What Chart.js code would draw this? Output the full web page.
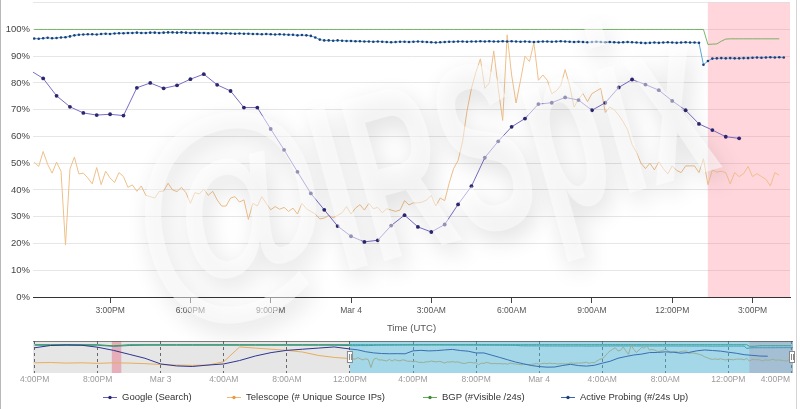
<!DOCTYPE html>
<html>
<head>
<meta charset="utf-8">
<script src="https://cdn.jsdelivr.net/npm/chart.js@4.4.1/dist/chart.umd.min.js"></script>
<style>
  html, body { margin: 0; padding: 0; background: #fff; }
  #wrap { position: relative; width: 800px; height: 409px; overflow: hidden; }
  #main { position: absolute; left: 0; top: -6px; }
  #nav { position: absolute; left: 0; top: 336px; }
  #frame { position: absolute; left: 0; top: 0; width: 797px; height: 409px; box-sizing: border-box;
           border-left: 1px solid #b8b8b8; border-right: 1px solid #d4d4d4; pointer-events: none; }
</style>
</head>
<body>
<div id="wrap">
  <canvas id="main" width="800" height="346"></canvas>
  <canvas id="nav" width="800" height="73"></canvas>
  <div id="frame"></div>
</div>
<script>
// time values are hours since Mar 3 00:00 UTC

// main chart x ticks
const mainTickHours = [15, 18, 21, 24, 27, 30, 33, 36, 39];
const mainTickLabels = ['3:00PM', '6:00PM', '9:00PM', 'Mar 4', '3:00AM', '6:00AM', '9:00AM', '12:00PM', '3:00PM'];

// navigator x ticks
const navTickHours = [-8, -4, 0, 4, 8, 12, 16, 20, 24, 28, 32, 36, 40];
const navTickLabels = ['4:00PM', '8:00PM', 'Mar 3', '4:00AM', '8:00AM', '12:00PM', '4:00PM', '8:00PM', 'Mar 4', '4:00AM', '8:00AM', '12:00PM', '4:00PM'];

// Google (Search), every 30 min
const googleHours = [12.0, 12.5, 13.0, 13.5, 14.0, 14.5, 15.0, 15.5, 16.0, 16.5,
  17.0, 17.5, 18.0, 18.5, 19.0, 19.5, 20.0, 20.5, 21.0, 21.5,
  22.0, 22.5, 23.0, 23.5, 24.0, 24.5, 25.0, 25.5, 26.0, 26.5,
  27.0, 27.5, 28.0, 28.5, 29.0, 29.5, 30.0, 30.5, 31.0, 31.5,
  32.0, 32.5, 33.0, 33.5, 34.0, 34.5, 35.0, 35.5, 36.0, 36.5,
  37.0, 37.5, 38.0, 38.5];
const googleValues = [84.8, 81.7, 75.2, 71.1, 68.8, 68.0, 68.3, 67.8, 78.2, 80.0,
  78.0, 79.1, 81.4, 83.3, 79.3, 77.0, 70.8, 70.8, 62.8, 55.0,
  46.8, 38.7, 32.6, 26.5, 22.7, 20.6, 21.2, 26.7, 30.6, 26.2,
  24.3, 27.1, 34.6, 41.4, 52.1, 58.2, 63.6, 66.7, 72.1, 72.6,
  74.6, 73.6, 69.8, 72.6, 78.3, 81.3, 79.4, 77.3, 73.3, 69.8,
  64.7, 62.4, 59.9, 59.3];

// the other three series are sampled every 10 min from 12:10PM Mar 3
const SERIES_START = 12 + 10 / 60;
const SERIES_STEP = 10 / 60;

const telescopeValues = [
  50.4, 48.8, 54.4, 49.6, 46.3, 50.4, 47.0, 19.4, 47.8, 52.3,
  46.0, 46.3, 44.5, 42.3, 48.4, 42.0, 47.0, 44.5, 42.8, 46.5,
  45.0, 41.0, 41.9, 39.5, 41.5, 38.0, 37.5, 37.0, 39.4, 39.6,
  42.5, 40.0, 39.4, 41.0, 39.0, 35.0, 39.0, 38.5, 40.3, 38.0,
  39.5, 36.3, 34.0, 34.0, 37.0, 37.5, 35.5, 36.3, 29.0, 35.0,
  34.0, 37.5, 35.0, 32.6, 33.8, 32.8, 33.5, 32.0, 33.2, 31.0,
  35.0, 33.0, 32.0, 31.0, 29.2, 29.5, 30.5, 29.6, 30.5, 31.5,
  33.8, 31.0, 33.2, 34.5, 32.5, 35.0, 33.0, 33.5, 31.5, 33.0,
  32.5, 32.0, 32.5, 36.0, 34.4, 35.2, 35.2, 35.5, 36.3, 38.0,
  34.0, 37.0, 36.0, 42.5, 48.0, 51.0, 58.0, 69.5, 78.0, 84.0,
  89.0, 78.0, 80.0, 92.0, 78.0, 66.0, 98.0, 83.0, 72.5, 81.0,
  90.0, 88.0, 95.0, 81.0, 83.0, 81.0, 76.0, 77.0, 79.0, 85.0,
  79.0, 71.0, 74.0, 76.0, 73.0, 76.0, 77.0, 78.0, 69.0, 71.0,
  70.0, 68.0, 65.5, 62.5, 57.0, 54.0, 50.0, 48.0, 50.0, 47.5,
  50.5, 48.0, 46.0, 49.0, 47.3, 46.5, 49.0, 49.0, 49.0, 46.5,
  51.7, 42.0, 47.5, 46.7, 47.0, 46.5, 42.3, 46.5, 45.0, 46.1,
  48.8, 45.0, 46.1, 45.0, 44.0, 41.5, 46.5, 45.5];

const bgpValues = [
  100, 100, 100, 100, 100, 100, 100, 100, 100, 100, 100, 100, 100, 100, 100, 100, 100, 100, 100, 100,
  100, 100, 100, 100, 100, 100, 100, 100, 100, 100, 100, 100, 100, 100, 100, 100, 100, 100, 100, 100,
  100, 100, 100, 100, 100, 100, 100, 100, 100, 100, 100, 100, 100, 100, 100, 100, 100, 100, 100, 100,
  100, 100, 100, 100, 100, 100, 100, 100, 100, 100, 100, 100, 100, 100, 100, 100, 100, 100, 100, 100,
  100, 100, 100, 100, 100, 100, 100, 100, 100, 100, 100, 100, 100, 100, 100, 100, 100, 100, 100, 100,
  100, 100, 100, 100, 100, 100, 100, 100, 100, 100, 100, 100, 100, 100, 100, 100, 100, 100, 100, 100,
  100, 100, 100, 100, 100, 100, 100, 100, 100, 100, 100, 100, 100, 100, 100, 100, 100, 100, 100, 100,
  100, 100, 100, 100, 100, 100, 100, 100, 100, 100, 100,
  94.4, 94.5, 94.6, 95.6, 96.4, 96.5, 96.5, 96.5, 96.5, 96.5, 96.5, 96.5, 96.5, 96.5, 96.5, 96.5, 96.5];

const probingValues = [
  96.6, 96.5, 96.7, 96.9, 96.7, 96.8, 97.0, 97.1, 97.4, 97.8, 98.0,
  98.1, 98.2, 98.2, 98.1, 98.3, 98.4, 98.3, 98.5, 98.6, 98.6,
  98.7, 98.7, 98.8, 98.7, 98.7, 98.8, 98.8, 98.7, 98.8, 98.9,
  98.9, 98.8, 98.9, 98.8, 98.7, 98.8, 98.7, 98.7, 98.6, 98.7,
  98.6, 98.5, 98.6, 98.5, 98.4, 98.5, 98.4, 98.4, 98.3, 98.3,
  98.2, 98.3, 98.2, 98.1, 98.2, 98.1, 98.0, 98.0, 97.8, 97.9,
  97.8, 97.6, 97.0, 96.2, 95.9, 95.9, 95.8, 95.9, 95.8, 95.7,
  95.7, 95.6, 95.6, 95.5, 95.5, 95.4, 95.5, 95.4, 95.3, 95.2,
  95.3, 95.4, 95.4, 95.3, 95.4, 95.5, 95.4, 95.3, 95.2, 95.1,
  95.2, 95.3, 95.4, 95.4, 95.5, 95.5, 95.4, 95.5, 95.5, 95.6,
  95.5, 95.6, 95.5, 95.5, 95.6, 95.5, 95.6, 95.5, 95.4, 95.5,
  95.4, 95.3, 95.4, 95.5, 95.5, 95.4, 95.5, 95.6, 95.5, 95.4,
  95.3, 95.4, 95.3, 95.2, 95.3, 95.4, 95.3, 95.2, 95.3, 95.2,
  95.1, 95.2, 95.3, 95.2, 95.1, 95.0, 94.9, 95.0, 95.1, 95.0,
  95.1, 95.2, 95.1, 95.0, 95.1, 95.2, 95.1, 95.1, 95.0, 86.8,
  88.2, 89.1, 89.2, 89.3, 89.2, 89.3, 89.2, 89.2, 89.3, 89.3,
  89.4, 89.5, 89.4, 89.5, 89.6, 89.5, 89.6, 89.5];

// navigator only: hourly values before the main window (Mar 2 4PM .. Mar 3 11AM)
const navEarlyHours = [-8, -7, -6, -5, -4, -3, -2, -1, 0, 1, 2, 3, 4, 5, 6, 7, 8, 9, 10, 11];
const navGoogleEarly = [89, 97, 99, 98, 91, 80, 66, 52, 32, 25, 23, 28, 32, 44, 60, 72, 80, 84, 88, 92];
const navTelescopeEarly = [36, 37, 35, 36, 34, 36, 35, 33, 30, 28, 27, 28, 40, 92, 88, 84, 80, 74, 62, 55];
const navBgpEarly = [100, 100, 100, 100, 100, 96, 100, 100, 100, 100, 100, 100, 100, 100, 100, 100, 100, 100, 100, 100];
const navProbingEarly = [98, 98, 98, 98, 98, 94, 97, 98, 98, 98, 98, 98, 98, 98, 98, 98, 98, 98, 98, 98];

const X_MIN = 12.12, X_MAX = 40.40;
const NAV_MIN = -8.1, NAV_MAX = 40.1;
const OUTAGE_START = 37.33;        // 1:20PM Mar 4
const NAV_OLD_OUTAGE = [-3.1, -2.5];
const watermarkParts = ['@', 'IRSpix'];
const legendTextX = [122, 246, 442, 580];

const FONT = '"Liberation Sans", Arial, Helvetica, sans-serif';
Chart.defaults.font.family = FONT;

function pairs(hours, values) {
  return values.map((v, i) => ({ x: hours[i], y: v }));
}
function stepped(values) {
  return values.map((v, i) => ({ x: SERIES_START + i * SERIES_STEP, y: v }));
}

const googleData = pairs(googleHours, googleValues);
const telescopeData = stepped(telescopeValues);
const bgpData = stepped(bgpValues);
const probingData = stepped(probingValues);

// pink outage band on the main chart
const outageBand = {
  id: 'outageBand',
  beforeDatasetsDraw(chart) {
    const { ctx, chartArea, scales: { x } } = chart;
    const x0 = x.getPixelForValue(OUTAGE_START);
    ctx.save();
    ctx.fillStyle = 'rgba(255, 120, 140, 0.3)';
    ctx.fillRect(x0, chartArea.top, chartArea.right - x0, chartArea.bottom - chartArea.top);
    ctx.restore();
  }
};

// embossed watermark over the plot (canvas is shifted up 6px)
const watermark = {
  id: 'watermark',
  afterDraw(chart) {
    const ctx = chart.ctx;
    const spots = [
      { x: 232, y: 224, sx: 0.85, size: 240 },
      { x: 515, y: 162, sx: 0.53, size: 240 }
    ];
    ctx.save();
    ctx.textAlign = 'center';
    ctx.textBaseline = 'middle';
    ctx.shadowColor = 'rgba(0,0,0,0.24)';
    ctx.shadowBlur = 24;
    ctx.shadowOffsetX = 5;
    ctx.shadowOffsetY = 9;
    ctx.fillStyle = 'rgba(255,255,255,0.5)';
    watermarkParts.forEach((t, i) => {
      const s = spots[i];
      ctx.save();
      ctx.translate(s.x, s.y);
      ctx.rotate(-0.27);
      ctx.scale(s.sx, 1);
      ctx.font = 'bold ' + s.size + 'px ' + FONT;
      ctx.fillText(t, 0, 0);
      ctx.restore();
    });
    ctx.restore();
  }
};

new Chart(document.getElementById('main'), {
  type: 'line',
  data: {
    datasets: [
      { label: 'Google (Search)', data: googleData, borderColor: '#7a6cc6', borderWidth: 1,
        pointRadius: 1.9, pointBackgroundColor: '#2c2870', pointBorderWidth: 0, order: 2 },
      { label: 'Telescope (# Unique Source IPs)', data: telescopeData, borderColor: '#efc08a', borderWidth: 1,
        pointRadius: 0, order: 4 },
      { label: 'BGP (#Visible /24s)', data: bgpData, borderColor: 'rgba(90, 165, 70, 0.8)', borderWidth: 1,
        pointRadius: 0, order: 1 },
      { label: 'Active Probing (#/24s Up)', data: probingData, borderColor: '#5aa8dc', borderWidth: 1,
        pointRadius: 1.3, pointBackgroundColor: '#1d3f7a', pointBorderWidth: 0, order: 3 }
    ]
  },
  options: {
    responsive: false,
    animation: false,
    events: [],
    layout: { autoPadding: false, padding: { top: 2, right: 10, bottom: 4, left: 0 } },
    scales: {
      x: {
        type: 'linear', min: X_MIN, max: X_MAX,
        afterBuildTicks: s => { s.ticks = mainTickHours.map(v => ({ value: v })); },
        afterFit: s => { s.height = 39; },
        ticks: {
          autoSkip: false, maxRotation: 0, padding: 3, color: '#555', font: { size: 8.5 },
          callback: v => mainTickLabels[mainTickHours.indexOf(v)]
        },
        grid: { drawOnChartArea: false, tickLength: 6, tickColor: '#444' },
        border: { color: '#333' },
        title: { display: true, text: 'Time (UTC)', color: '#555', font: { size: 9.5 }, padding: { top: 0, bottom: 2 } }
      },
      y: {
        min: 0, max: 110,
        afterFit: s => { s.width = 33; },
        ticks: {
          stepSize: 10, padding: 3, color: '#444', font: { size: 9.5 },
          callback: v => (v > 100 ? '' : v + '%')
        },
        grid: { color: '#e6e6e6', drawTicks: false },
        border: { display: false }
      }
    },
    plugins: { legend: { display: false }, tooltip: { enabled: false } }
  },
  plugins: [outageBand, watermark]
});

// navigator
const navColors = [
  { line: '#6a5fb8', dot: '#2c2870' },
  { line: '#f0b870', dot: '#e89a40' },
  { line: '#62b052', dot: '#3f8a3a' },
  { line: '#3a62b0', dot: '#1d3f7a' }
];

const navBands = {
  id: 'navBands',
  beforeDraw(chart) {
    const { ctx, chartArea: a, scales: { x } } = chart;
    const sel = x.getPixelForValue(X_MIN - 0.12);
    ctx.save();
    ctx.fillStyle = '#e6e6e6';
    ctx.fillRect(a.left, a.top, a.right - a.left, a.bottom - a.top);
    ctx.fillStyle = 'rgba(230, 150, 165, 0.7)';
    const p0 = x.getPixelForValue(NAV_OLD_OUTAGE[0]), p1 = x.getPixelForValue(NAV_OLD_OUTAGE[1]);
    ctx.fillRect(p0, a.top, p1 - p0, a.bottom - a.top);
    ctx.fillStyle = '#fbfbfb';
    ctx.fillRect(sel, a.top, a.right - sel, a.bottom - a.top);
    const o = x.getPixelForValue(OUTAGE_START);
    ctx.fillStyle = 'rgba(255, 120, 140, 0.35)';
    ctx.fillRect(o, a.top, a.right - o, a.bottom - a.top);
    ctx.restore();
  },
  afterDatasetsDraw(chart) {
    const { ctx, chartArea: a, scales: { x } } = chart;
    const sel = x.getPixelForValue(X_MIN - 0.12);
    ctx.save();
    ctx.fillStyle = 'rgba(70, 175, 212, 0.48)';
    ctx.fillRect(sel, a.top, a.right - sel, a.bottom - a.top);
    ctx.strokeStyle = 'rgba(80, 80, 80, 0.7)';
    ctx.lineWidth = 1;
    ctx.beginPath(); ctx.moveTo(a.left, a.top + 0.5); ctx.lineTo(a.right, a.top + 0.5); ctx.stroke();
    // handles
    [sel, a.right - 1].forEach(hx => {
      ctx.fillStyle = '#fff';
      ctx.strokeStyle = '#888';
      ctx.fillRect(hx - 3, a.top + 10, 6, 12);
      ctx.strokeRect(hx - 2.5, a.top + 10.5, 5, 11);
      ctx.beginPath();
      ctx.moveTo(hx - 0.5, a.top + 13); ctx.lineTo(hx - 0.5, a.top + 19);
      ctx.moveTo(hx + 1.5, a.top + 13); ctx.lineTo(hx + 1.5, a.top + 19);
      ctx.stroke();
    });
    ctx.restore();
  },
  afterDraw(chart) {
    const { ctx, chartArea: a, scales: { x } } = chart;
    ctx.save();
    // time labels under the navigator
    ctx.font = '8.5px ' + FONT;
    ctx.fillStyle = '#9a9a9a';
    ctx.textAlign = 'center';
    ctx.textBaseline = 'middle';
    navTickHours.forEach((h, i) => {
      const w = ctx.measureText(navTickLabels[i]).width;
      const px = Math.min(x.getPixelForValue(h), chart.width - 10 - w / 2);
      ctx.fillText(navTickLabels[i], px, a.bottom + 7);
    });
    // legend
    const ly = a.bottom + 24;
    ctx.font = '9.5px ' + FONT;
    ctx.textAlign = 'left';
    chart.data.datasets.forEach((ds, i) => {
      const tx = legendTextX[i];
      ctx.strokeStyle = navColors[i].line;
      ctx.lineWidth = 1;
      ctx.beginPath(); ctx.moveTo(tx - 19, ly + 0.5); ctx.lineTo(tx - 5, ly + 0.5); ctx.stroke();
      ctx.fillStyle = navColors[i].dot;
      ctx.beginPath(); ctx.arc(tx - 12, ly + 0.5, 1.7, 0, Math.PI * 2); ctx.fill();
      ctx.fillStyle = '#333';
      ctx.fillText(ds.label, tx, ly);
    });
    ctx.restore();
  }
};

const navGoogle = pairs(navEarlyHours, navGoogleEarly).concat(googleData);
const navTelescope = pairs(navEarlyHours, navTelescopeEarly).concat(telescopeData);
const navBgp = pairs(navEarlyHours, navBgpEarly).concat(bgpData);
const navProbing = pairs(navEarlyHours, navProbingEarly).concat(probingData);

new Chart(document.getElementById('nav'), {
  type: 'line',
  data: {
    datasets: [
      { label: 'Google (Search)', data: navGoogle, borderColor: '#2e3592', borderWidth: 1, pointRadius: 0 },
      { label: 'Telescope (# Unique Source IPs)', data: navTelescope, borderColor: '#e8ad5c', borderWidth: 1, pointRadius: 0 },
      { label: 'BGP (#Visible /24s)', data: navBgp, borderColor: '#3f9a4c', borderWidth: 1, pointRadius: 0 },
      { label: 'Active Probing (#/24s Up)', data: navProbing, borderColor: '#2f8fb8', borderWidth: 1, pointRadius: 0 }
    ]
  },
  options: {
    responsive: false,
    animation: false,
    events: [],
    layout: { autoPadding: false, padding: { top: 5, right: 7, bottom: 22, left: 33 } },
    scales: {
      x: {
        type: 'linear', min: NAV_MIN, max: NAV_MAX,
        afterBuildTicks: s => { s.ticks = navTickHours.map(v => ({ value: v })); },
        afterFit: s => { s.height = 14; },
        ticks: { display: false },
        grid: { color: 'rgba(60, 60, 60, 0.75)', drawTicks: false },
        border: { display: false, dash: [3, 3] }
      },
      y: { display: false, min: 0, max: 113 }
    },
    plugins: { tooltip: { enabled: false }, legend: { display: false } }
  },
  plugins: [navBands]
});
</script>
</body>
</html>
